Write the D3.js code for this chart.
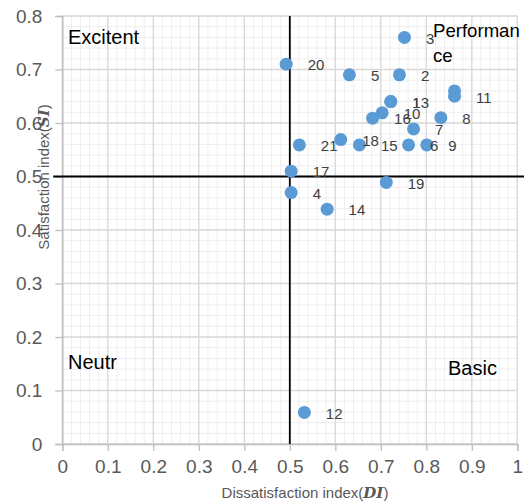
<!DOCTYPE html>
<html>
<head>
<meta charset="utf-8">
<script src="https://cdn.jsdelivr.net/npm/d3@7"></script>
<style>
  html, body { margin: 0; padding: 0; background: #fff; }
  svg { display: block; }
</style>
</head>
<body>
<svg id="chart" width="524" height="502"></svg>
<script>
// ---- data ----
const pointLabels = ["3", "20", "5", "2", "11", "", "1", "13", "10", "16", "8", "7", "18", "21", "15", "6", "9", "17", "4", "14", "19", "12"];
const diValues    = [0.752, 0.492, 0.631, 0.741, 0.862, 0.862, 0.722, 0.722, 0.703, 0.682, 0.832, 0.772, 0.612, 0.521, 0.653, 0.761, 0.801, 0.503, 0.503, 0.582, 0.712, 0.532];
const siValues    = [0.760, 0.710, 0.690, 0.690, 0.650, 0.660, 0.640, 0.640, 0.619, 0.609, 0.610, 0.589, 0.569, 0.559, 0.559, 0.559, 0.559, 0.510, 0.470, 0.439, 0.489, 0.059];
const xTicks = [0, 0.1, 0.2, 0.3, 0.4, 0.5, 0.6, 0.7, 0.8, 0.9, 1];
const yTicks = [0, 0.1, 0.2, 0.3, 0.4, 0.5, 0.6, 0.7, 0.8];
const xTickLabels = ["0", "0.1", "0.2", "0.3", "0.4", "0.5", "0.6", "0.7", "0.8", "0.9", "1"];
const yTickLabels = ["0", "0.1", "0.2", "0.3", "0.4", "0.5", "0.6", "0.7", "0.8"];
const quadrantNames = ["Excitent", "Neutr", "Basic"];
const performanceLines = ["Performan", "ce"];
const thresholdDI = 0.5;
const thresholdSI = 0.5;

const points = pointLabels.map((l, i) => ({ label: l, di: diValues[i], si: siValues[i] }));

// ---- layout ----
const W = 524, H = 502;
const L = 62.3, R = 517.3, T = 16, B = 444;
const svg = d3.select("#chart");
const x = d3.scaleLinear().domain([0, 1]).range([L, R]);
const y = d3.scaleLinear().domain([0, 0.8]).range([B, T]);
const font = "'Liberation Sans', Arial, sans-serif";

// minor gridlines
const minorX = d3.range(0, 1.0001, 0.02);
const minorY = d3.range(0, 0.8001, 0.02);
const grid = svg.append("g");
grid.selectAll("line.mx").data(minorX).enter().append("line")
  .attr("x1", d => x(d)).attr("x2", d => x(d)).attr("y1", T).attr("y2", B)
  .attr("stroke", "#eeeeee").attr("stroke-width", 1);
grid.selectAll("line.my").data(minorY).enter().append("line")
  .attr("y1", d => y(d)).attr("y2", d => y(d)).attr("x1", L).attr("x2", R)
  .attr("stroke", "#eeeeee").attr("stroke-width", 1);
// major gridlines
grid.selectAll("line.Mx").data(xTicks).enter().append("line")
  .attr("x1", d => x(d)).attr("x2", d => x(d)).attr("y1", T).attr("y2", B)
  .attr("stroke", "#d9d9d9").attr("stroke-width", 1.3);
grid.selectAll("line.My").data(yTicks).enter().append("line")
  .attr("y1", d => y(d)).attr("y2", d => y(d)).attr("x1", L).attr("x2", R)
  .attr("stroke", "#d9d9d9").attr("stroke-width", 1.3);

// axes
const xAxis = d3.axisBottom(x).tickValues(xTicks)
  .tickFormat((d, i) => xTickLabels[i]).tickSize(7).tickPadding(8.5);
const yAxis = d3.axisLeft(y).tickValues(yTicks)
  .tickFormat((d, i) => yTickLabels[i]).tickSize(7).tickPadding(13);

const gx = svg.append("g").attr("transform", `translate(0,${B})`).call(xAxis);
const gy = svg.append("g").attr("transform", `translate(${L},0)`).call(yAxis);
[gx, gy].forEach(g => {
  g.select(".domain").attr("stroke", "#bfbfbf").attr("stroke-width", 1.5);
  g.selectAll(".tick line").attr("stroke", "#bfbfbf").attr("stroke-width", 1.3);
  g.selectAll(".tick text").attr("fill", "#595959")
    .style("font-family", font).style("font-size", "19px");
});

// threshold lines
svg.append("line")
  .attr("x1", x(-0.02)).attr("x2", W).attr("y1", y(thresholdSI)).attr("y2", y(thresholdSI))
  .attr("stroke", "#000").attr("stroke-width", 1.8);
svg.append("line")
  .attr("x1", x(thresholdDI)).attr("x2", x(thresholdDI)).attr("y1", T).attr("y2", B)
  .attr("stroke", "#000").attr("stroke-width", 1.8);

// points
svg.append("g").selectAll("circle").data(points).enter().append("circle")
  .attr("cx", d => x(d.di)).attr("cy", d => y(d.si)).attr("r", 6.5)
  .attr("fill", "#5b9bd5");

// point labels
svg.append("g").selectAll("text").data(points).enter().append("text")
  .attr("x", d => x(d.di) + 21.5).attr("y", d => y(d.si) + 6.3)
  .attr("fill", "#404040")
  .style("font-family", font).style("font-size", "15px")
  .text(d => d.label);

// quadrant labels
const qPos = [[68, 44], [68, 369], [448, 375]];
svg.append("g").selectAll("text").data(quadrantNames).enter().append("text")
  .attr("x", (d, i) => qPos[i][0]).attr("y", (d, i) => qPos[i][1])
  .attr("fill", "#000").style("font-family", font).style("font-size", "20px")
  .text(d => d);

const perf = svg.append("text").attr("fill", "#000")
  .style("font-family", font).style("font-size", "18.6px");
perf.selectAll("tspan").data(performanceLines).enter().append("tspan")
  .attr("x", 433).attr("y", (d, i) => 37 + i * 25).text(d => d);

// axis titles
const xt = svg.append("text").attr("x", 305).attr("y", 498)
  .attr("text-anchor", "middle").attr("fill", "#595959")
  .style("font-family", font).style("font-size", "15px");
xt.append("tspan").text("Dissatisfaction index(");
xt.append("tspan").style("font-family", "'DejaVu Serif', 'Liberation Serif', serif")
  .style("font-weight", "bold").style("font-style", "italic").text("DI");
xt.append("tspan").text(")");

const yt = svg.append("text").attr("transform", "translate(49,177) rotate(-90)")
  .attr("text-anchor", "middle").attr("fill", "#595959")
  .style("font-family", font).style("font-size", "15px");
yt.append("tspan").text("Satisfaction index(");
yt.append("tspan").style("font-family", "'DejaVu Serif', 'Liberation Serif', serif")
  .style("font-weight", "bold").style("font-style", "italic").text("SI");
yt.append("tspan").text(")");
</script>
</body>
</html>
